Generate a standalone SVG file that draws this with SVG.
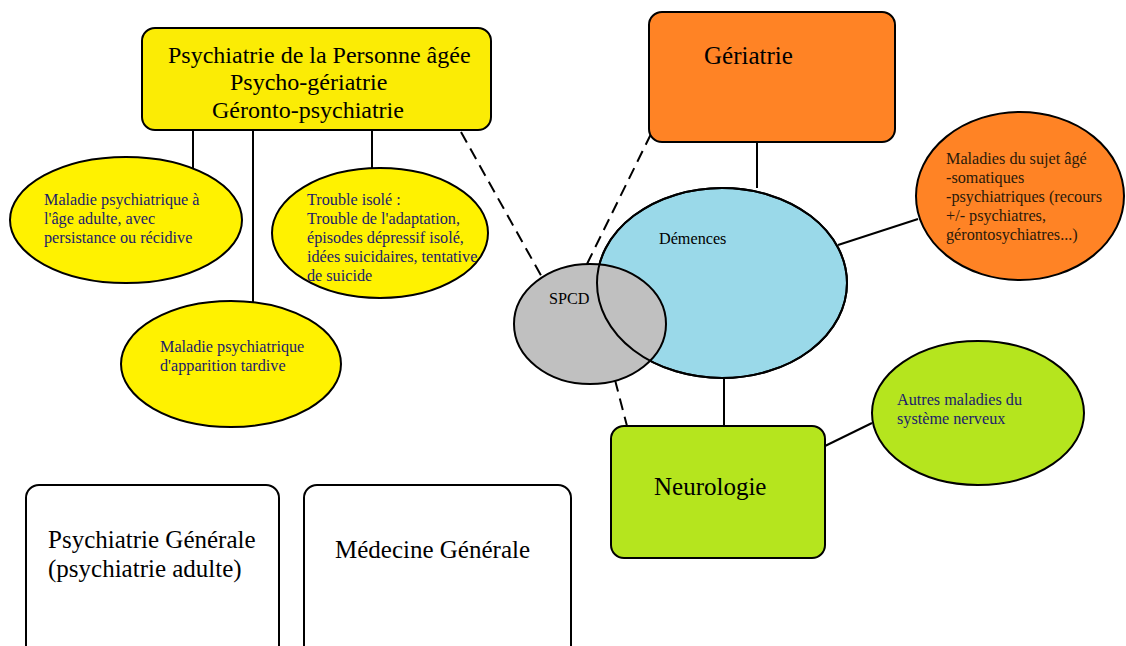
<svg xmlns="http://www.w3.org/2000/svg" width="1126" height="646" viewBox="0 0 1126 646">
<style>
.s{stroke:#000;stroke-width:2}
.big{font-size:25px;fill:#000}
.top{font-size:24px;fill:#000}
.sm{font-size:16.2px}
.navy{fill:#1c1c6b}
.dk{fill:#2a1a0a}
.bk{fill:#000}
.ln{stroke:#000;stroke-width:2;fill:none}
.dash{stroke:#000;stroke-width:2;fill:none;stroke-dasharray:12 7}
</style>
<rect width="1126" height="646" fill="#fff"/>
<g id="connectors">
<line class="ln" x1="193" y1="130" x2="193" y2="172"/>
<line class="ln" x1="253" y1="130" x2="253" y2="302"/>
<line class="ln" x1="372" y1="130" x2="372" y2="168"/>
<line class="dash" x1="461" y1="132" x2="543" y2="279"/>
<line class="dash" x1="651" y1="134" x2="587" y2="264"/>
<line class="ln" x1="757" y1="142" x2="757" y2="188"/>
<line class="ln" x1="838" y1="245" x2="918" y2="219"/>
<line class="dash" x1="615" y1="380" x2="627" y2="426"/>
<line class="ln" x1="724" y1="378" x2="724" y2="426"/>
<line class="ln" x1="825" y1="446" x2="872" y2="423"/>
</g>
<g id="psy-age" font-family="Liberation Serif, serif">
<rect class="s" x="142" y="28" width="349" height="102" rx="13" fill="#fbec05"/>
<text class="top" x="168" y="63">Psychiatrie de la Personne âgée</text>
<text class="top" x="230" y="90">Psycho-gériatrie</text>
<text class="top" x="212" y="118">Géronto-psychiatrie</text>
</g>
<g id="maladie-adulte" font-family="Liberation Serif, serif">
<ellipse class="s" cx="126" cy="220" rx="116" ry="63" fill="#fff200"/>
<text class="sm navy" x="44" y="205">Maladie psychiatrique à</text>
<text class="sm navy" x="44" y="224">l'âge adulte, avec</text>
<text class="sm navy" x="44" y="243">persistance ou récidive</text>
</g>
<g id="trouble-isole" font-family="Liberation Serif, serif">
<ellipse class="s" cx="380" cy="233" rx="108" ry="65" fill="#fff200"/>
<text class="sm navy" x="307" y="205">Trouble isolé :</text>
<text class="sm navy" x="307" y="224">Trouble de l'adaptation,</text>
<text class="sm navy" x="307" y="243">épisodes dépressif isolé,</text>
<text class="sm navy" x="307" y="262">idées suicidaires, tentative</text>
<text class="sm navy" x="307" y="281">de suicide</text>
</g>
<g id="apparition-tardive" font-family="Liberation Serif, serif">
<ellipse class="s" cx="231" cy="364" rx="110" ry="63" fill="#fff200"/>
<text class="sm navy" x="160" y="352">Maladie psychiatrique</text>
<text class="sm navy" x="160" y="371">d'apparition tardive</text>
</g>
<g id="geriatrie" font-family="Liberation Serif, serif">
<rect class="s" x="649" y="12" width="246" height="130" rx="13" fill="#ff8325"/>
<text class="big" x="704" y="64">Gériatrie</text>
</g>
<g id="maladies-sujet-age" font-family="Liberation Serif, serif">
<ellipse class="s" cx="1020" cy="196" rx="104" ry="84" fill="#ff8325"/>
<text class="sm dk" x="946" y="164">Maladies du sujet âgé</text>
<text class="sm dk" x="946" y="183">-somatiques</text>
<text class="sm dk" x="946" y="202">-psychiatriques (recours</text>
<text class="sm dk" x="946" y="221">+/- psychiatres,</text>
<text class="sm dk" x="946" y="240">gérontosychiatres...)</text>
</g>
<g id="demences" font-family="Liberation Serif, serif">
<ellipse cx="722" cy="283" rx="125" ry="95" fill="#9ad9e9" stroke="#000" stroke-width="2"/>
<text class="sm bk" x="659" y="244">Démences</text>
</g>
<g id="spcd" font-family="Liberation Serif, serif">
<ellipse class="s" cx="590" cy="324" rx="76" ry="60" fill="#c0c0c0"/>
<ellipse cx="722" cy="283" rx="125" ry="95" fill="none" stroke="#000" stroke-width="2"/>
<text class="sm bk" x="549" y="304">SPCD</text>
</g>
<g id="neurologie" font-family="Liberation Serif, serif">
<rect class="s" x="611" y="426" width="214" height="132" rx="13" fill="#b5e51e"/>
<text class="big" x="654" y="495">Neurologie</text>
</g>
<g id="autres-maladies" font-family="Liberation Serif, serif">
<ellipse class="s" cx="978" cy="413" rx="106" ry="72" fill="#b5e51e"/>
<text class="sm navy" x="897" y="405">Autres maladies du</text>
<text class="sm navy" x="897" y="424">système nerveux</text>
</g>
<g id="psy-generale" font-family="Liberation Serif, serif">
<rect class="s" x="26" y="485" width="253" height="180" rx="13" fill="#fff"/>
<text class="big" x="48" y="548">Psychiatrie Générale</text>
<text class="big" x="48" y="577">(psychiatrie adulte)</text>
</g>
<g id="medecine-generale" font-family="Liberation Serif, serif">
<rect class="s" x="304" y="485" width="267" height="180" rx="13" fill="#fff"/>
<text class="big" x="335" y="558">Médecine Générale</text>
</g>
</svg>
